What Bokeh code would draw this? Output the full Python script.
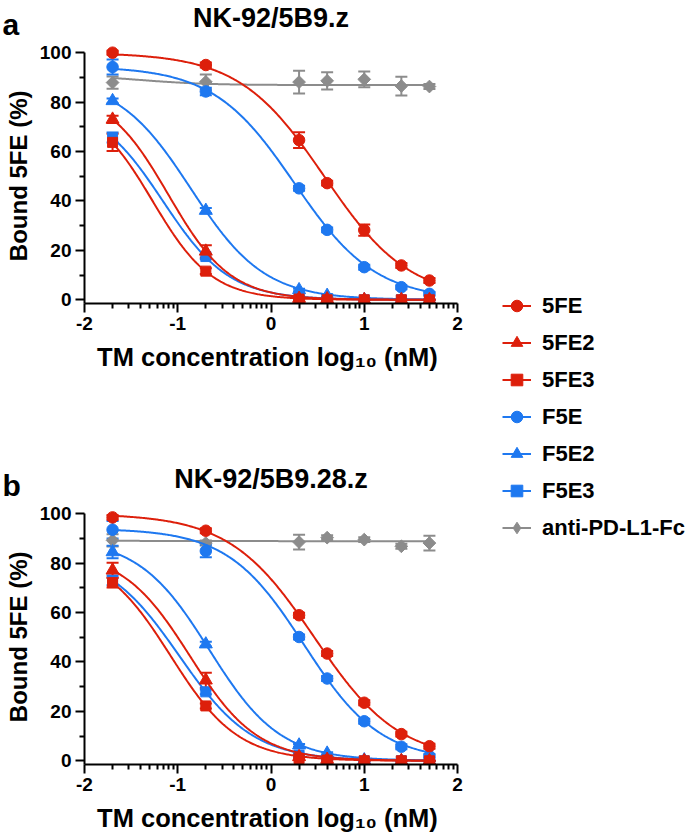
import numpy as np
from bokeh.plotting import figure
from bokeh.models import (ColumnDataSource, FixedTicker, Whisker, TeeHead, Legend,
                          LegendItem, Range1d)
from bokeh.layouts import row, column
from bokeh.core.properties import value
from bokeh.embed import file_html
from bokeh.resources import INLINE

# ---------------- data ----------------
conc_nM = [0.02, 0.2, 2, 4, 10, 25, 50]
series = ["5FE", "5FE2", "5FE3", "F5E", "F5E2", "F5E3", "anti-PD-L1-Fc"]

x_ticks = [-2, -1, 0, 1, 2]
x_tick_labels = ["-2", "-1", "0", "1", "2"]
y_ticks = [0, 20, 40, 60, 80, 100]
y_minor_ticks = [10, 30, 50, 70, 90]

panel_titles = ["NK-92/5B9.z", "NK-92/5B9.28.z"]
panel_letters = ["a", "b"]
x_title = "TM concentration log\u2081\u2080  (nM)"
y_title = "Bound 5FE  (%)"

# panel a : NK-92/5B9.z  (mean bound 5FE %, error)
a_5FE = [100.0, 95.0, 64.6, 47.2, 28.2, 13.9, 7.8]
a_5FE2 = [73.0, 19.6, 0.5, 0.3, 0.0, 0.0, 0.0]
a_5FE3 = [63.7, 11.6, 0.3, 0.0, 0.0, 0.0, 0.0]
a_F5E = [94.2, 84.3, 45.1, 28.3, 13.2, 5.1, 2.4]
a_F5E2 = [80.5, 36.1, 4.0, 1.7, 0.0, 0.0, 0.0]
a_F5E3 = [65.7, 17.5, 1.0, 0.5, 0.0, 0.0, 0.0]
a_anti = [87.9, 88.2, 88.1, 88.6, 89.2, 86.5, 86.3]

a_5FE_err = [0.8, 1.0, 3.2, 1.0, 2.3, 1.0, 1.0]
a_5FE2_err = [1.5, 2.5, 0.5, 0.5, 0.0, 0.0, 0.0]
a_5FE3_err = [3.5, 1.2, 0.5, 0.3, 0.0, 0.0, 0.0]
a_F5E_err = [3.0, 1.5, 1.0, 1.0, 1.0, 0.8, 0.8]
a_F5E2_err = [1.0, 1.0, 0.5, 0.5, 0.0, 0.0, 0.0]
a_F5E3_err = [2.0, 1.0, 0.5, 0.5, 0.0, 0.0, 0.0]
a_anti_err = [2.5, 3.0, 4.6, 3.5, 3.2, 3.8, 1.0]

# fitted dose-response parameters [top, bottom, logIC50, hill slope]
a_5FE_fit = [100.0, 0.0, 0.57, 0.95]
a_5FE2_fit = [85.0, 0.0, -1.10, 1.31]
a_5FE3_fit = [80.0, 0.0, -1.27, 1.36]
a_F5E_fit = [94.5, 0.0, 0.25, 1.0]
a_F5E2_fit = [90.0, 0.0, -0.86, 1.10]
a_F5E3_fit = [80.0, 0.0, -1.16, 1.22]
a_anti_fit = [91.0, 86.9, -1.4, 1.2]

# panel b : NK-92/5B9.28.z
b_5FE = [98.5, 93.1, 58.9, 43.4, 23.5, 10.8, 5.9]
b_5FE2 = [77.1, 32.6, 1.6, 0.5, 0.0, 0.0, 0.0]
b_5FE3 = [72.1, 22.2, 0.9, 0.3, 0.0, 0.0, 0.0]
b_F5E = [93.5, 84.9, 50.1, 33.3, 16.0, 5.7, 1.9]
b_F5E2 = [84.5, 47.2, 6.3, 3.0, 0.3, 0.0, 0.0]
b_F5E3 = [73.0, 27.9, 2.3, 1.0, 0.0, 0.0, 0.0]
b_anti = [89.2, 88.1, 88.5, 90.3, 89.5, 86.8, 88.1]

b_5FE_err = [1.0, 1.0, 1.0, 1.0, 1.0, 1.0, 1.0]
b_5FE2_err = [3.0, 3.0, 0.5, 0.5, 0.0, 0.0, 0.0]
b_5FE3_err = [2.0, 1.0, 0.5, 0.3, 0.0, 0.0, 0.0]
b_F5E_err = [3.5, 2.5, 1.0, 1.0, 1.0, 1.0, 0.8]
b_F5E2_err = [2.5, 1.0, 0.5, 0.5, 0.0, 0.0, 0.0]
b_F5E3_err = [2.0, 1.0, 0.5, 0.5, 0.0, 0.0, 0.0]
b_anti_err = [2.5, 1.0, 3.0, 1.0, 1.0, 1.0, 3.0]

b_5FE_fit = [100.0, 0.0, 0.464, 0.955]
b_5FE2_fit = [85.0, 0.0, -0.871, 1.196]
b_5FE3_fit = [85.0, 0.0, -1.077, 1.20]
b_F5E_fit = [94.0, 0.0, 0.354, 1.064]
b_F5E2_fit = [90.0, 0.0, -0.663, 1.144]
b_F5E3_fit = [85.0, 0.0, -0.984, 1.095]
b_anti_fit = [89.0, 88.8, 0.0, 1.0]

panel_a = dict(zip(series, [a_5FE, a_5FE2, a_5FE3, a_F5E, a_F5E2, a_F5E3, a_anti]))
panel_a_err = dict(zip(series, [a_5FE_err, a_5FE2_err, a_5FE3_err, a_F5E_err, a_F5E2_err, a_F5E3_err, a_anti_err]))
panel_a_fit = dict(zip(series, [a_5FE_fit, a_5FE2_fit, a_5FE3_fit, a_F5E_fit, a_F5E2_fit, a_F5E3_fit, a_anti_fit]))
panel_b = dict(zip(series, [b_5FE, b_5FE2, b_5FE3, b_F5E, b_F5E2, b_F5E3, b_anti]))
panel_b_err = dict(zip(series, [b_5FE_err, b_5FE2_err, b_5FE3_err, b_F5E_err, b_F5E2_err, b_F5E3_err, b_anti_err]))
panel_b_fit = dict(zip(series, [b_5FE_fit, b_5FE2_fit, b_5FE3_fit, b_F5E_fit, b_F5E2_fit, b_F5E3_fit, b_anti_fit]))

# ---------------- style ----------------
FONT = "Liberation Sans"
RED = "#DD1F0B"
BLUE = "#1E78F0"
GRAY = "#8C8C8C"
style = {
    "5FE": (RED, "circle", 11.5, 0.0),
    "5FE2": (RED, "triangle", 13, 0.0),
    "5FE3": (RED, "square", 10, 0.0),
    "F5E": (BLUE, "circle", 11.5, 0.0),
    "F5E2": (BLUE, "triangle", 13, 0.0),
    "F5E3": (BLUE, "square", 10, 0.0),
    "anti-PD-L1-Fc": (GRAY, "square", 9, np.pi / 4),
}
legend_marker = {"anti-PD-L1-Fc": "diamond"}
LEFT_W = 470
FRAME_W = 373
FRAME_H = 262
PX_PER_UNIT = 2.4712
Y_START = -1.5
Y_END = Y_START + FRAME_H / PX_PER_UNIT

x_log = np.log10(conc_nM)
x_minor = [d + np.log10(k) for d in x_ticks[:-1] for k in range(2, 10)]


def hill(x, top, bottom, logic50, slope):
    return bottom + (top - bottom) / (1.0 + 10.0 ** ((x - logic50) * slope))


def blank(width, height):
    p = figure(width=width, height=height, x_range=Range1d(0, width), y_range=Range1d(height, 0),
               x_axis_location=None, y_axis_location=None, min_border=0,
               output_backend="svg", toolbar_location=None, title=None)
    p.grid.visible = False
    p.outline_line_color = None
    return p


def band(height, title, title_y, letter, letter_y):
    p = blank(LEFT_W, height)
    p.text(x=[270.5], y=[title_y], text=[title], text_align="center",
           text_baseline="alphabetic", text_font=value(FONT), text_font_style="bold",
           text_font_size="27px", text_color="black")
    p.text(x=[2], y=[letter_y], text=[letter], text_align="left",
           text_baseline="alphabetic", text_font=value(FONT), text_font_style="bold",
           text_font_size="30px", text_color="black")
    return p


def build_panel(vals, errs, fits, border_bottom):
    p = figure(frame_width=FRAME_W, frame_height=FRAME_H,
               x_range=Range1d(-2, 2), y_range=Range1d(Y_START, Y_END),
               output_backend="svg", toolbar_location=None, title=None,
               min_border_left=84, min_border_right=LEFT_W - 84 - FRAME_W,
               min_border_top=0, min_border_bottom=border_bottom)
    p.grid.visible = False
    p.outline_line_color = None

    x_fit = np.linspace(x_log.min(), x_log.max(), 300)
    for name in reversed(series):
        color, marker, size, ang = style[name]
        y = np.array(vals[name])
        e = np.array(errs[name])
        src = ColumnDataSource(dict(x=x_log, y=y, upper=y + e, lower=y - e))
        p.line(x_fit, hill(x_fit, *fits[name]), line_color=color, line_width=2)
        w = Whisker(source=src, base="x", upper="upper", lower="lower",
                    line_color=color, line_width=2,
                    upper_head=TeeHead(size=12, line_color=color, line_width=2),
                    lower_head=TeeHead(size=12, line_color=color, line_width=2))
        p.add_layout(w)
        p.scatter("x", "y", source=src, marker=marker, size=size, angle=ang,
                  fill_color=color, line_color=color)

    xa = p.xaxis[0]
    xa.bounds = (-2, 2)
    xa.ticker = FixedTicker(ticks=x_ticks, minor_ticks=x_minor)
    xa.major_label_overrides = dict(zip(x_ticks, x_tick_labels))
    xa.major_label_standoff = 4
    xa.axis_label = x_title
    xa.axis_label_standoff = 10
    xa.axis_label_text_font_size = "25.5px"
    ya = p.yaxis[0]
    ya.bounds = (Y_START, 100)
    ya.ticker = FixedTicker(ticks=y_ticks, minor_ticks=y_minor_ticks)
    ya.major_label_standoff = 4
    ya.axis_label = y_title
    ya.axis_label_standoff = 5
    ya.axis_label_text_font_size = "24px"
    for ax in p.axis:
        ax.axis_line_width = 2
        ax.axis_line_color = "black"
        ax.major_tick_line_width = 2
        ax.minor_tick_line_width = 2
        ax.major_tick_line_color = "black"
        ax.minor_tick_line_color = "black"
        ax.major_tick_in = 0
        ax.major_tick_out = 9
        ax.minor_tick_in = 0
        ax.minor_tick_out = 5
        ax.major_label_text_font = FONT
        ax.major_label_text_font_style = "bold"
        ax.major_label_text_font_size = "19px"
        ax.major_label_text_color = "black"
        ax.axis_label_text_font = FONT
        ax.axis_label_text_font_style = "bold"
        ax.axis_label_text_color = "black"
    return p


BAND_A_H = 41
BAND_B_H = 118
band_a = band(BAND_A_H, panel_titles[0], 17.2, panel_letters[0], 24.0)
fig_a = build_panel(panel_a, panel_a_err, panel_a_fit, 81)
band_b = band(BAND_B_H, panel_titles[1], 94.8, panel_letters[1], 101.0)
fig_b = build_panel(panel_b, panel_b_err, panel_b_fit, 74)
TOTAL_H = BAND_A_H + (FRAME_H + 81) + BAND_B_H + (FRAME_H + 74)

# legend figure
fig_leg = blank(685 - LEFT_W, TOTAL_H)
items = []
for name in series:
    color, marker, size, ang = style[name]
    src = ColumnDataSource(dict(x=[float("nan")], y=[float("nan")]))
    lr = fig_leg.line("x", "y", source=src, line_color=color, line_width=2)
    sr = fig_leg.scatter("x", "y", source=src, marker=legend_marker.get(name, marker),
                         size=size, fill_color=color, line_color=color)
    items.append(LegendItem(label=name, renderers=[lr, sr]))
legend = Legend(items=items, location=(32, TOTAL_H - 546), padding=0, margin=0, spacing=0,
                glyph_width=29, glyph_height=37, label_height=37, label_standoff=11,
                label_text_font=FONT, label_text_font_style="bold",
                label_text_font_size="22px", label_text_color="black",
                border_line_color=None, background_fill_alpha=0)
fig_leg.add_layout(legend)

left = column(row(band_a), row(fig_a), row(band_b), row(fig_b))
layout = row(left, fig_leg)
open("out.html", "w").write(file_html(layout, INLINE))
